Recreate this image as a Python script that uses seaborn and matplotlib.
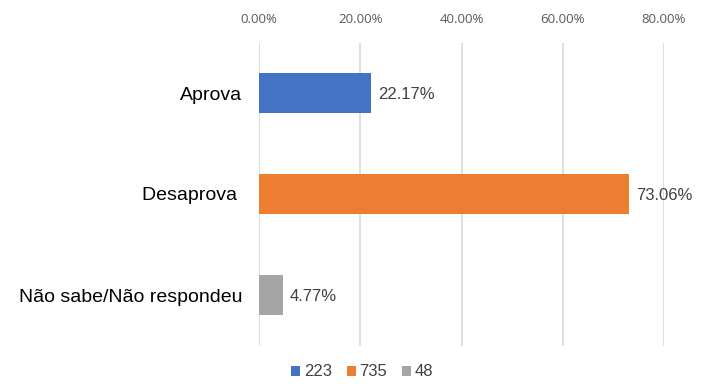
import matplotlib
matplotlib.use("Agg")
import matplotlib.pyplot as plt
import seaborn as sns
import pandas as pd
from matplotlib.ticker import FuncFormatter

categories = ["Aprova", "Desaprova ", "Não sabe/Não respondeu"]
percent = [22.17, 73.06, 4.77]
series = ["223", "735", "48"]
colors = ["#4472C4", "#ED7D31", "#A5A5A5"]
xticks = [0, 20, 40, 60, 80]

df = pd.DataFrame({"cat": categories, "pct": percent, "series": series})

sns.set_theme(style="white")
plt.rcParams["font.family"] = ["Liberation Sans", "DejaVu Sans"]

fig = plt.figure(figsize=(7.17, 3.88), dpi=100)
ax = fig.add_axes([259/717, 1 - 345.5/388, (664 - 259)/717, (345.5 - 42.5)/388])

sns.barplot(data=df, x="pct", y="cat", hue="series", hue_order=series,
            palette=colors, dodge=False, width=0.4, orient="h", ax=ax,
            saturation=1, legend=True, linewidth=0)

ax.set_xlim(0, 80)
ax.set_ylim(2.5, -0.5)
ax.set_xticks(xticks)
ax.xaxis.set_major_formatter(FuncFormatter(lambda v, p: f"{v:.2f}%"))
ax.xaxis.tick_top()
ax.tick_params(axis="x", length=0, pad=12, labelsize=9.5, labelcolor="#595959")
for lab in ax.get_xticklabels():
    lab.set_fontfamily(["Open Sans", "DejaVu Sans"])
ax.tick_params(axis="y", length=0, pad=12, labelsize=14, labelcolor="#000000")
ax.set_xlabel("")
ax.set_ylabel("")
ax.grid(axis="x", color="#D9D9D9", linewidth=1.2)
ax.set_axisbelow(True)
for s in ax.spines.values():
    s.set_visible(False)

for i, v in enumerate(percent):
    ax.annotate(f"{v:.2f}%", xy=(v, i), xytext=(5, -1), textcoords="offset points",
                ha="left", va="center", fontsize=12, color="#404040")

handles, labels = ax.get_legend_handles_labels()
ax.get_legend().remove()
fig.legend(handles, labels, loc="center", bbox_to_anchor=(362/717, 1 - 372/388),
           ncol=3, frameon=False, handlelength=0.55, handleheight=0.55,
           handletextpad=0.2, columnspacing=0.9, fontsize=12,
           labelcolor="#404040")

fig.savefig("out.png", dpi=100)
